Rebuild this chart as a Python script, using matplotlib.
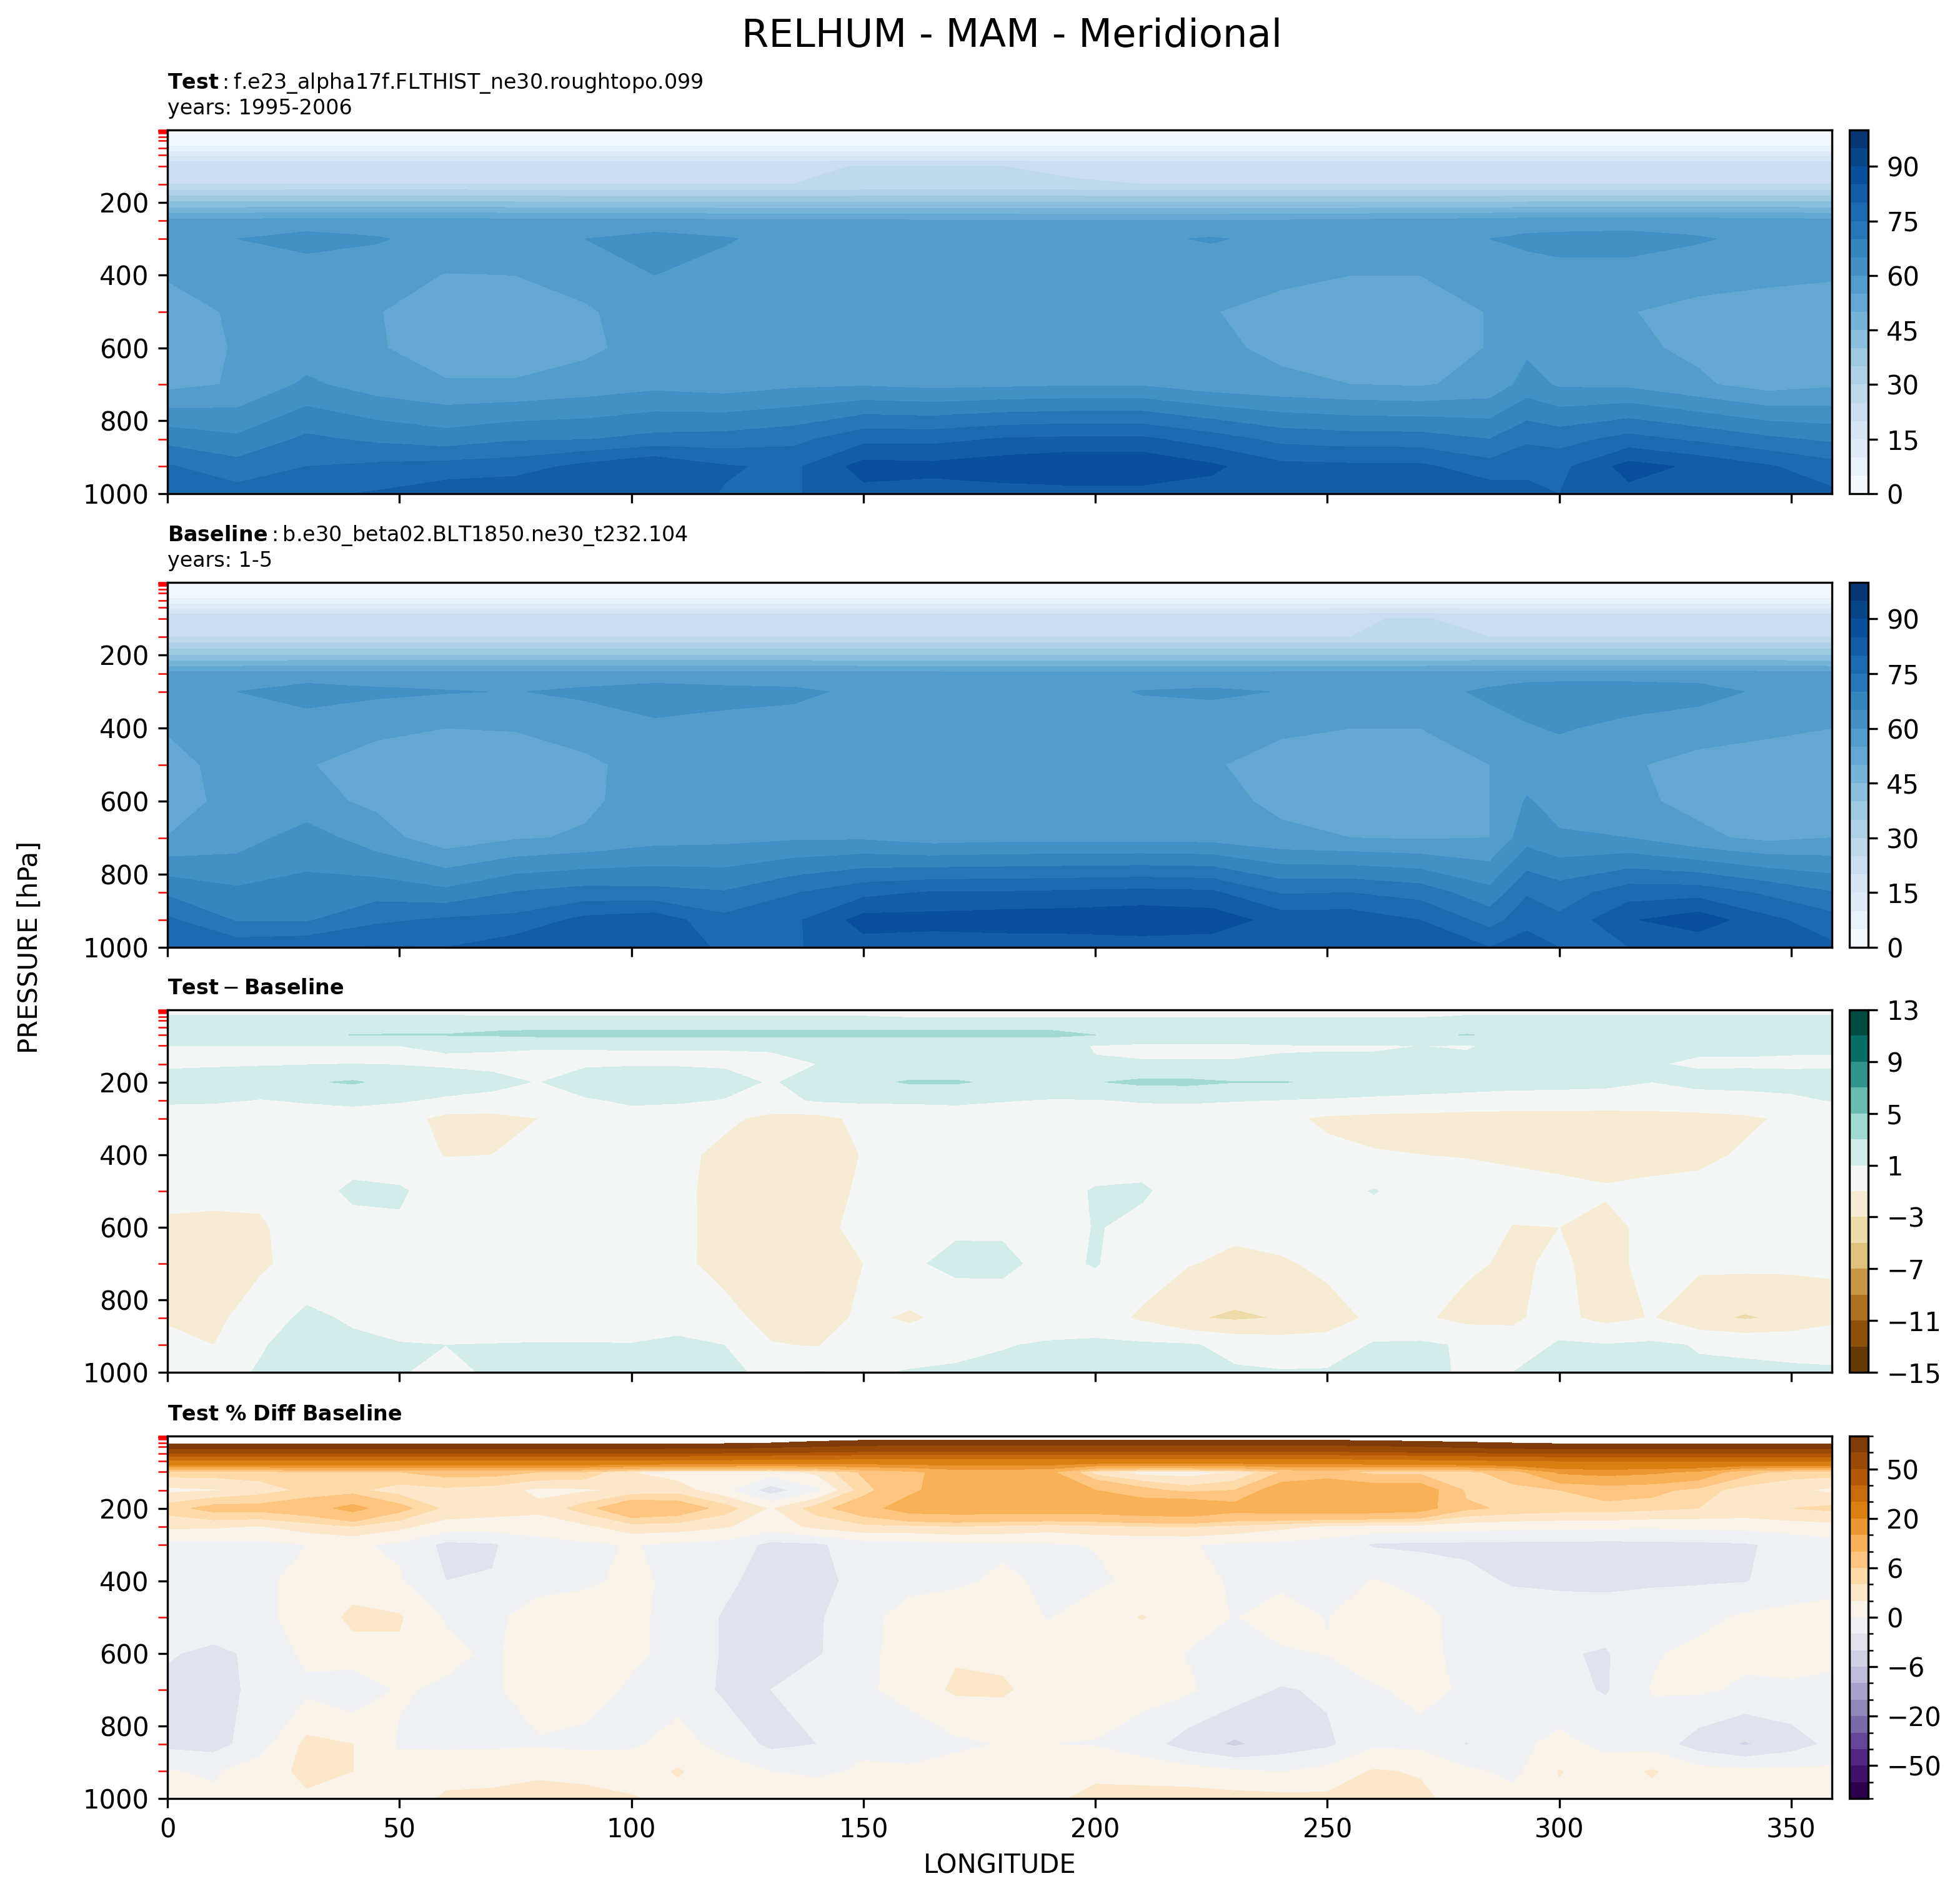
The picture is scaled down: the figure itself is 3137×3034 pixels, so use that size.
import numpy as np
import matplotlib
matplotlib.use("Agg")
import matplotlib.pyplot as plt
from matplotlib.colors import BoundaryNorm, TwoSlopeNorm
from matplotlib.ticker import NullLocator

# === DATA ===
lon_top = [0, 15, 30, 45, 60, 75, 90, 105, 120, 135, 150, 165, 180, 195, 210, 225, 240, 255, 270, 285, 293, 300, 315, 330, 345, 358.75]
lev_top = [1, 30, 50, 70, 100, 150, 200, 250, 300, 400, 500, 600, 700, 850, 925, 1000]

test_rh = [
    [2, 2, 2, 2, 2, 2, 2, 2, 2, 2, 2, 2, 2, 2, 2, 2, 2, 2, 2, 2, 2, 2, 2, 2, 2, 2],
    [3, 3, 3, 3, 3, 3, 3, 3, 3, 3, 3, 3, 3, 3, 3, 3, 3, 3, 3, 3, 3, 3, 3, 3, 3, 3],
    [6, 6, 6, 6, 6, 6, 6, 6, 6, 6, 6, 6, 6, 6, 6, 6, 6, 6, 6, 6, 6, 6, 6, 6, 6, 6],
    [14, 14, 14, 14, 14, 14, 14, 14, 14, 14, 14, 14, 14, 14, 14, 14, 14, 14, 14, 14, 14, 14, 14, 14, 14, 14],
    [24.2, 24.2, 24.2, 24.2, 24.2, 24.2, 24.2, 24.2, 24.2, 24.2, 25.2, 25.2, 25, 24.2, 24.2, 24.2, 24.2, 24.2, 24.2, 24.2, 24.2, 24.2, 24.2, 24.2, 24.2, 24.2],
    [25, 25, 25, 25, 25, 25, 25, 25, 25, 25, 25.4, 25.4, 25.4, 25.4, 25, 25, 25, 25, 25, 25, 25, 25, 25, 25, 25, 25],
    [40.5, 40.5, 41, 41, 41, 40.5, 40, 40, 40, 40, 40, 40, 40, 40, 40, 40, 40, 40, 40, 40, 40.5, 40.5, 40.5, 40.5, 40.5, 40.5],
    [56.5, 56.5, 57, 57, 57, 56.5, 56.5, 56.5, 56, 56, 55.7, 55.5, 55.3, 55.2, 55.2, 55.2, 55.5, 56, 56.5, 57, 57.5, 57.5, 57.5, 57.5, 57, 56.5],
    [58, 60, 62, 60.5, 58, 57.5, 60, 62, 60.5, 58, 57.5, 57.5, 57.5, 57.5, 59, 60.5, 58.5, 58, 58, 60, 61, 61.5, 62, 60.5, 58.5, 58],
    [55.3, 56.5, 57, 57, 54.8, 55, 56.5, 60, 58, 57, 57, 57, 57, 57, 57, 56.5, 56, 55, 55, 57, 58, 58.5, 58, 57, 56, 55.3],
    [53.5, 55.5, 56.5, 55.2, 53, 53, 54.5, 57, 57, 57, 57, 57, 57, 57, 56.5, 55.2, 53.5, 53, 53, 55.2, 56, 56.5, 55.2, 53.5, 53, 53.5],
    [53, 55.3, 57, 55.5, 52.5, 52.5, 54, 57, 57, 57, 57, 57, 57, 57, 57, 56, 54, 52.5, 53, 55.2, 59, 57, 56, 54, 52.5, 53],
    [53.5, 55.5, 61, 57.5, 55.5, 55.5, 57, 58.5, 57.5, 59, 59.5, 58.5, 59, 59.5, 59.5, 57, 56, 55, 54.5, 56.5, 62, 59.3, 58.9, 55.8, 52.8, 54.2],
    [68.3, 66, 71, 69, 67.3, 69.5, 69.7, 71.5, 72, 73.5, 78.5, 78.5, 80.4, 81, 81, 77.5, 73.5, 72.5, 72.3, 70, 74, 73, 76.7, 74, 71, 69],
    [75.5, 72, 75, 76, 77, 77.7, 81.5, 84.8, 80.5, 79, 87, 86.5, 88, 89.5, 89.5, 86, 81.5, 81, 81, 77, 79, 78.5, 87, 84, 80.5, 77],
    [79, 77, 79, 80.5, 83, 84, 83, 83, 79.7, 79.5, 83.5, 83, 83, 83, 83, 83, 82, 82.5, 83, 83, 81, 80, 83.5, 84, 81, 81],
]

base_rh = [
    [2, 2, 2, 2, 2, 2, 2, 2, 2, 2, 2, 2, 2, 2, 2, 2, 2, 2, 2, 2, 2, 2, 2, 2, 2, 2],
    [3, 3, 3, 3, 3, 3, 3, 3, 3, 3, 3, 3, 3, 3, 3, 3, 3, 3, 3, 3, 3, 3, 3, 3, 3, 3],
    [6, 6, 6, 6, 6, 6, 6, 6, 6, 6, 6, 6, 6, 6, 6, 6, 6, 6, 6, 6, 6, 6, 6, 6, 6, 6],
    [14, 14, 14, 14, 14, 14, 14, 14, 14, 14, 14, 14, 14, 14, 14, 14, 14, 14, 14, 14, 14, 14, 14, 14, 14, 14],
    [24, 24, 24, 24, 24, 24, 24, 24, 24, 24, 24, 24, 24, 24, 24, 24, 24, 24.8, 25.2, 24, 24, 24, 24, 24, 24, 24],
    [25, 25, 25, 25, 25, 25, 25, 25, 25, 25, 25, 25, 25, 25, 25, 25, 25, 25, 25.3, 25, 25, 25, 25, 25, 25, 25],
    [40, 40, 40, 40, 40, 40, 40, 40, 40, 40, 40, 40, 40, 40, 40, 40, 40, 40, 40, 40, 40, 40, 40, 40, 40, 40],
    [56.5, 56.5, 57, 57, 57, 57, 57, 57, 57, 57, 56.5, 56.5, 56, 56, 56, 56, 56.5, 56.5, 56.5, 57, 57.5, 57.5, 57.5, 57.5, 57, 56.5],
    [58, 60, 62.5, 61, 60.3, 59.8, 61, 62.5, 61.5, 61, 59, 58, 58, 58, 60.3, 61, 59.8, 58, 58, 61, 62.5, 63, 63, 62, 59, 58],
    [55.3, 56.5, 57, 56, 55, 55.2, 57, 59, 58.5, 58, 57, 57, 57, 57, 57, 56.5, 55.5, 55, 55, 58, 59.5, 60.5, 58.5, 57, 55.8, 55],
    [53.7, 56.5, 55.3, 53, 52.8, 53, 54, 57, 57, 57, 57, 57, 57, 57, 56.5, 55.3, 53.8, 53, 53, 55, 57, 57.5, 55.5, 53.5, 53, 53.5],
    [53, 56.5, 56.5, 54, 52.5, 52.8, 54.2, 57, 57, 57, 57, 57, 57, 57, 57, 56.5, 54, 52.8, 53, 55, 60.5, 58, 56, 53.8, 53, 53],
    [55.1, 57.5, 62.5, 57.2, 52, 54.5, 55.5, 58, 58.5, 59.3, 59.3, 57.5, 58.2, 58.3, 58.3, 58, 56, 55, 54.5, 55, 63, 60.7, 60, 56, 53.8, 55],
    [69.2, 66, 66.5, 68, 66.3, 70.3, 72, 71.5, 70.4, 74.7, 78.5, 80.5, 80.5, 81, 81.5, 81, 74.5, 75, 73, 66.5, 74.5, 72.5, 77.7, 78, 74, 70.3],
    [76, 69.5, 69.5, 74, 75.8, 76.5, 81.5, 83, 76.5, 79, 87, 87, 87.7, 88, 89, 88, 83, 83, 80, 73, 78, 76, 84.5, 88, 81.3, 77],
    [79.5, 78, 79, 80.3, 80, 83, 83, 82, 79.5, 79.5, 83, 82, 82, 82, 82, 82, 83, 84, 83.5, 80, 83, 80, 80, 81, 80.5, 81],
]

lon_low = [0, 10, 20, 30, 40, 50, 60, 70, 80, 90, 100, 110, 120, 130, 140, 150, 160, 170, 180, 190, 200, 210, 220, 230, 240, 250, 260, 270, 280, 290, 300, 310, 320, 330, 340, 350, 358.75]
lev_low = [1, 20, 30, 50, 70, 100, 150, 200, 250, 300, 400, 500, 600, 700, 850, 925, 1000]

diff_rh = [
    [0.3, 0.3, 0.3, 0.3, 0.3, 0.3, 0.3, 0.3, 0.3, 0.3, 0.3, 0.3, 0.3, 0.3, 0.3, 0.3, 0.3, 0.3, 0.3, 0.3, 0.3, 0.3, 0.3, 0.3, 0.3, 0.3, 0.3, 0.3, 0.3, 0.3, 0.3, 0.3, 0.3, 0.3, 0.3, 0.3, 0.3],
    [1.2, 1.2, 1.2, 1.2, 1.2, 1.2, 1.2, 1.1, 1.1, 1.1, 1.1, 1.1, 1.1, 1.1, 1.1, 1.1, 0.8, 0.8, 0.8, 0.8, 0.8, 0.8, 0.8, 0.8, 0.8, 0.8, 0.8, 0.8, 1.2, 1.2, 1.2, 1.2, 1.2, 1.2, 1.2, 1.2, 1.2],
    [1.7, 1.7, 1.7, 1.7, 1.7, 1.7, 1.7, 1.7, 1.7, 1.7, 1.7, 1.7, 1.7, 1.7, 1.7, 1.7, 1.7, 1.7, 1.7, 1.7, 1.7, 1.7, 1.7, 1.7, 1.7, 1.7, 1.7, 1.7, 1.7, 1.7, 1.7, 1.7, 1.7, 1.7, 1.7, 1.7, 1.7],
    [2.2, 2.2, 2.2, 2.2, 2.2, 2.2, 2.2, 2.8, 2.8, 2.8, 2.8, 2.8, 2.8, 2.8, 2.8, 2.8, 2.8, 2.8, 2.8, 2.8, 2.8, 2.2, 2.2, 2.2, 2.2, 2.2, 2.2, 2.2, 2.2, 2.2, 2.2, 2.2, 2.2, 2.2, 2.2, 2.2, 2.2],
    [2.5, 2.5, 2.5, 2.5, 3.05, 3.1, 3.1, 3.2, 3.4, 3.4, 3.4, 3.4, 3.4, 3.4, 3.4, 3.4, 3.4, 3.4, 3.4, 3.4, 3, 2.5, 2.5, 2.5, 2.5, 2.5, 2.5, 2.5, 3.1, 2.5, 2.5, 2.5, 2.5, 2.5, 2.5, 2.5, 2.5],
    [1, 1, 1, 1, 1, 1, 1.2, 1.2, 1.1, 1.1, 1.1, 1.1, 1.1, 1.1, 1.2, 1.6, 1.6, 1.6, 1.6, 1.6, 0.9, 0.7, 0.7, 0.7, 0.85, 0.9, 0.9, 1, 0.9, 1.3, 1.3, 1.3, 1.3, 1.3, 1.3, 1.3, 1.3],
    [0.6, 0.7, 0.8, 0.9, 1, 0.9, 0.7, 0.6, 0.6, 0.6, 0.7, 0.7, 0.7, 0.8, 1, 1.3, 1.4, 1.4, 1.4, 1.3, 1.1, 1.1, 1.1, 1.1, 1.2, 1.2, 1.2, 1.2, 1.3, 1.4, 1.4, 1.2, 1.1, 0.8, 0.8, 0.7, 0.7],
    [2, 2.2, 2.5, 2.8, 3.2, 2.4, 2, 1.5, 0.9, 2.4, 2.9, 2.7, 1.8, 0.8, 1.8, 2.5, 3.2, 3.2, 2.6, 2.6, 2.9, 3.4, 3.4, 3.05, 3.1, 2.7, 2.4, 2.2, 2, 1.8, 1.7, 1.5, 1, 1.5, 1.6, 1.7, 1.8],
    [1.3, 1.3, 0.9, 1.2, 1.5, 1.2, 0.7, 0.5, 0.5, 0.7, 1.4, 1.3, 0.9, 0.4, 1.2, 1.3, 1.3, 1.4, 1.1, 0.9, 0.9, 1.2, 1.3, 1.1, 0.95, 0.8, 0.6, 0.4, 0.2, 0, 0, 0, 0, 0.2, 0.3, 0.6, 1.1],
    [0, -0.4, -0.9, 0, 0, -0.3, -1.5, -1.6, -1, -0.2, 0, -0.3, -0.6, -1.5, -1.6, -0.5, -0.2, -0.1, 0, 0, 0, -0.2, -0.3, -0.3, -0.6, -1.3, -1.5, -1.6, -1.7, -1.7, -1.7, -1.8, -1.7, -1.6, -1.3, -0.7, -0.2],
    [0, -0.2, -0.8, 0, 0.3, -0.1, -1.1, -1, -0.5, -0.2, 0, -0.5, -1.5, -2, -2, -0.9, -0.3, -0.2, -0.1, 0.1, 0.3, 0.3, 0, -0.1, -0.3, -0.6, -0.9, -1, -1.1, -1.3, -1.5, -1.8, -1.6, -1.4, -0.8, -0.3, -0.2],
    [-0.3, -0.3, -0.5, 0.3, 1.3, 1.2, 0.2, 0, -0.1, -0.2, -0.3, -0.6, -1.6, -2, -1.8, -0.7, -0.2, 0.2, 0.3, 0.5, 1.1, 1.2, 0.3, 0, 0, 0.2, 1.1, 0.2, -0.2, -0.4, -0.6, -0.8, -0.6, -0.5, -0.4, -0.3, -0.2],
    [-1.4, -1.6, -1.3, 0.2, 0.5, 0.8, 0.2, 0, 0, -0.1, -0.2, -0.5, -1.7, -1.8, -1.4, -0.6, -0.4, 0.7, 0.8, 0, 1.1, 0.6, -0.2, -0.6, 0, 0.1, 0.1, 0.1, -0.2, -1.05, -1, -1.5, -0.5, -0.1, 0, 0, -0.1],
    [-1.8, -2, -1.4, 0, 0, 0, 0, 0, 0, 0, -0.3, -0.6, -1.6, -1.5, -1.6, -1, 0.7, 1.5, 1.3, 0.6, 1.1, 0, -0.9, -1.4, -1.3, -0.5, 0, -0.3, -0.7, -1.3, -0.7, -1.7, -0.3, -0.6, -0.5, -0.6, -0.8],
    [-1.2, -1.6, 0.3, 1.3, 0.8, 0.2, 0, -0.8, -0.9, -1, -0.3, 0, -0.4, -1.6, -1.9, -0.6, -1.3, -0.4, 0.2, 0, -0.2, -1.3, -2.8, -3.3, -2.9, -1.9, -0.6, -0.7, -1.6, -1.2, -0.5, -1.6, -0.9, -2.5, -3.2, -2.6, -1.5],
    [-0.5, -1, 0.9, 1.5, 1.3, 1.1, 1, 1.1, 1.2, 1.2, 1.1, 1.5, 1, -0.9, -1.1, 0.1, 0.2, 0.4, 0.9, 1.2, 1.4, 1.3, 1.2, 0.5, 0.1, -0.2, 1.2, 1.3, 0.8, -0.5, 1.3, 1.1, 1.3, 0.9, 0.7, 0.6, 0.4],
    [0, 0.6, 1.1, 1.2, 1.2, 1.1, 0.6, 1.2, 1.3, 1.3, 1.2, 1.4, 1.1, 0.9, 1.1, 0.8, 1.1, 1.3, 1.4, 1.3, 1.3, 1.4, 1.4, 1.2, 1.1, 1.2, 1.3, 1.2, 0.9, 1, 1.1, 1.3, 1.3, 1.2, 1.3, 1.2, 1.2],
]

lev_pct = [1, 10, 20, 30, 50, 70, 100, 150, 200, 250, 300, 400, 500, 600, 700, 850, 925, 1000]

pct_rh = [
    [150, 150, 150, 150, 150, 150, 150, 150, 150, 150, 150, 150, 150, 150, 150, 150, 150, 150, 150, 150, 150, 150, 150, 150, 150, 150, 150, 150, 150, 150, 150, 150, 150, 150, 150, 150, 150],
    [115, 115, 115, 115, 115, 115, 115, 115, 115, 115, 115, 112, 110, 108, 105, 103, 103, 103, 103, 103, 103, 103, 103, 103, 103, 103, 105, 107, 110, 112, 115, 115, 115, 115, 115, 115, 115],
    [105, 105, 105, 105, 105, 105, 105, 105, 105, 105, 105, 105, 103, 100, 96, 92, 90, 90, 90, 90, 90, 90, 90, 90, 90, 90, 92, 94, 97, 100, 103, 103, 103, 103, 103, 103, 103],
    [88, 88, 88, 88, 88, 88, 88, 88, 88, 88, 88, 85, 85, 80, 75, 68, 66, 66, 66, 66, 66, 66, 66, 66, 66, 66, 70, 75, 80, 85, 88, 88, 88, 88, 88, 88, 88],
    [47, 47, 47, 47, 47, 47, 47, 47, 47, 47, 47, 46, 45, 44, 43, 42, 42, 42, 42, 42, 42, 42, 42, 42, 42, 42, 43, 44, 45, 46, 47, 47, 47, 47, 47, 47, 47],
    [28, 28, 28, 28, 28, 28, 28, 28, 28, 28, 28, 27, 27, 26, 26, 25, 25, 25, 25, 25, 25, 25, 25, 25, 25, 25, 26, 27, 28, 29, 30, 30, 30, 30, 30, 30, 30],
    [5, 5, 5, 6, 6, 6, 7, 7, 6, 5.5, 2, 1, 1, 1, 2.5, 6.5, 9, 12, 12, 11, 3, 1, 1, 2, 6, 7, 5, 5, 5, 8, 16, 17, 16, 14, 7, 5, 5],
    [1.5, 1.8, 3, 4.5, 4.5, 3, 3.5, 3, 1.5, 1.7, 2.5, 3, 0.5, -3, -0.5, 5, 9, 13, 12, 11, 10, 7, 5, 6, 13, 15, 13, 13, 5.5, 5, 6, 7.5, 7, 5, 3, 2.5, 1.5],
    [5, 7, 7, 8, 11.5, 7, 3.5, 3, 2.5, 5, 9, 8, 5, 1.7, 5, 8, 12.5, 13, 13, 13, 13, 14, 15, 12, 13, 13, 13, 12, 6.5, 5.5, 5, 5, 4.5, 4, 3.5, 4, 4.5],
    [2.4, 2.3, 1.9, 3, 4, 2.5, 1, 0.9, 1, 1.6, 3.2, 3, 2.2, 1, 2.5, 3.5, 3.5, 4, 3.5, 3, 3.5, 4, 4.2, 3.5, 2.5, 1.7, 1.3, 1.1, 0.8, 0.6, 0.5, 0.4, 0.3, 0.5, 0.6, 1, 1.3],
    [-0.6, -0.6, -0.5, 0, 0.2, -0.3, -2.5, -2.2, -0.8, -0.3, 0.1, -0.4, -0.7, -2.5, -2.3, -1, -0.8, -0.5, -0.3, -0.2, 0.1, 0.1, 0.1, -0.3, -0.5, -1, -2.2, -2.4, -2.4, -2.5, -2.5, -2.6, -2.5, -2.4, -2.2, -1.5, -0.8],
    [-0.5, -0.5, -0.5, 0.8, 1, 0.2, -2, -1.9, -0.8, -0.4, 0.5, -0.5, -1.5, -3, -3, -0.9, -0.4, -0.3, 0.3, -0.3, -0.4, 0.6, 0.9, -0.3, -0.5, -0.8, 0.1, -0.5, -1.5, -2.2, -2.4, -2.5, -2.3, -2.2, -2.1, -1.2, -0.8],
    [-0.6, -0.6, -0.3, 0.5, 2.5, 2.2, -0.2, -0.5, 1, 1.2, 0.4, -0.6, -2.2, -2.8, -2.3, -0.4, 0.5, 1, 0.8, -0.1, 1, 2.1, 1, -0.1, 1, -0.1, 2, 0.5, -0.6, -1, -1, -1, -0.8, -0.6, 0.3, 0.6, 0.8],
    [-1.8, -2.5, -1.5, 0.5, 1.2, 1.7, 0.5, -0.3, 1, 1.2, 0.4, -0.6, -2.2, -2.5, -2.2, -0.6, 1, 1.8, 1.5, 1, 0.8, 0.7, -0.1, -0.5, -0.3, 0.1, 1, 0.3, -0.3, -0.8, -1.8, -2.2, -0.2, 0.5, 0.4, 0.7, 0.7],
    [-2.5, -2.7, -1.5, -0.5, -1.5, 0.2, -0.3, -0.3, 1, 0.8, -0.3, -0.5, -2.4, -2, -0.6, -0.5, 1, 2.3, 2.3, 1, 1, 0.7, 0.3, -1, -2.2, -1.7, -0.2, 0.4, -0.2, -1.9, -1.3, -2.2, 0.1, 0.3, -0.3, -0.3, -0.7],
    [-2.5, -2.8, -0.8, 2.5, 2, -0.2, -0.4, -0.3, -0.2, -0.5, -0.2, 0.5, -0.5, -2.5, -2, -0.3, -1.8, -0.4, 0.1, 0, -0.1, -1, -3, -4.3, -3.2, -2.4, -0.4, -0.5, -2.1, -0.5, 0.5, -0.5, -0.8, -3, -4.2, -3, -1.5],
    [0.1, -0.2, 1, 2.5, 2, 0.8, 1.5, 1.2, 1.7, 1.5, 0.8, 2.2, 0.7, 0, -0.3, 0.2, 0.6, 0.9, 0.9, 1, 1.3, 1.1, 0.9, 0.3, -0.1, 0.7, 2.2, 1.8, 0.4, -0.5, 2.1, 1, 2.2, 0.8, 0.5, 0.5, 0.4],
    [0.3, 0.3, 1.3, 1.7, 1, 1.2, 2.2, 2.5, 2.6, 2.5, 2.2, 1.3, 1.3, 1.1, 1, 0.9, 1, 1.2, 1.3, 1.4, 2.8, 2.8, 2.8, 2.7, 2.6, 2.4, 2.6, 2.5, 1, 0.6, 1.6, 1.8, 1.4, 1.3, 1.9, 1.8, 1.5],
]

rh_levels = [0, 5, 10, 15, 20, 25, 30, 35, 40, 45, 50, 55, 60, 65, 70, 75, 80, 85, 90, 95, 100]
rh_ticks = [0, 15, 30, 45, 60, 75, 90]
diff_levels = [-15, -13, -11, -9, -7, -5, -3, -1, 1, 3, 5, 7, 9, 11, 13]
diff_ticks = [-15, -11, -7, -3, 1, 5, 9, 13]
pct_levels = [-100, -75, -50, -40, -30, -20, -15, -10, -6, -4, -2, 0, 2, 4, 6, 10, 15, 20, 30, 40, 50, 75, 100]
pct_ticks = [-50, -20, -6, 0, 6, 20, 50]

pres_minor = [1, 2, 3, 5, 7, 10, 20, 30, 50, 70, 100, 150, 200, 250, 300, 400, 500, 600, 700, 850, 925, 1000]
pres_major = [200, 400, 600, 800, 1000]
lon_ticks = [0, 50, 100, 150, 200, 250, 300, 350]

W, H = 3137, 3034
fig = plt.figure(figsize=(W / 300, H / 300))


def panel(y0, y1, lon, lev, values, levels, cmap, norm, ticks, title, minor_cbar=False):
    ax = fig.add_axes([268 / W, 1 - y1 / H, 2664 / W, (y1 - y0) / H])
    cf = ax.contourf(lon, lev, np.array(values), levels=levels, cmap=cmap, norm=norm)
    ax.set_ylim(1000, 1)
    ax.set_xlim(0, 358.75)
    ax.set_yticks(pres_major)
    ax.set_yticks(pres_minor, minor=True)
    ax.tick_params(axis="y", which="minor", color="red", length=3.5)
    ax.set_xticks(lon_ticks)
    ax.set_title(title, loc="left", fontsize=8, pad=6)

    cax = fig.add_axes([2960 / W, 1 - y1 / H, 30 / W, (y1 - y0) / H])
    cb = fig.colorbar(cf, cax=cax)
    cb.set_ticks(ticks)
    cb.set_ticklabels([str(t).replace("-", "\u2212") for t in ticks])
    if minor_cbar:
        cb.ax.set_yticks([l for l in levels if l not in ticks], minor=True)
    else:
        cb.ax.yaxis.set_minor_locator(NullLocator())
    return ax


diff_norm = TwoSlopeNorm(vmin=-15, vcenter=0, vmax=13)
pct_norm = BoundaryNorm(pct_levels, 256)

ax1 = panel(208, 790, lon_top, lev_top, test_rh, rh_levels, "Blues", None, rh_ticks,
            "$\\mathbf{Test}:$f.e23_alpha17f.FLTHIST_ne30.roughtopo.099\nyears: 1995-2006")
ax2 = panel(932, 1516, lon_top, lev_top, base_rh, rh_levels, "Blues", None, rh_ticks,
            "$\\mathbf{Baseline}:$b.e30_beta02.BLT1850.ne30_t232.104\nyears: 1-5")
ax3 = panel(1616, 2196, lon_low, lev_low, diff_rh, diff_levels, "BrBG", diff_norm, diff_ticks,
            "$\\mathbf{Test} - \\mathbf{Baseline}$")
ax4 = panel(2298, 2878, lon_low, lev_pct, pct_rh, pct_levels, "PuOr_r", pct_norm, pct_ticks,
            "$\\mathbf{Test}\\ \\mathbf{\\%\\ Diff\\ Baseline}$", minor_cbar=True)

for ax in [ax1, ax2, ax3]:
    ax.set_xticklabels([])

fig.text(1620 / W, 1 - 58 / H, "RELHUM - MAM - Meridional", fontsize=15, ha="center", va="center")
fig.text(1600 / W, 1 - 2986 / H, "LONGITUDE", fontsize=10, ha="center", va="center")
fig.text(48 / W, 1 - 1516 / H, "PRESSURE [hPa]", fontsize=10, rotation=90, ha="center", va="center")

fig.savefig("out.png", dpi=300)
